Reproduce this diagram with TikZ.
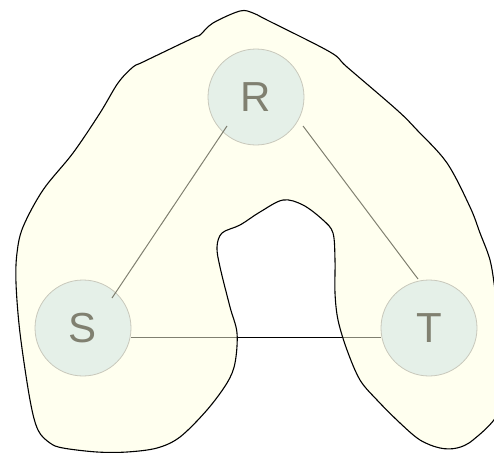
\documentclass[tikz,border=0pt]{standalone}
\usepackage{fontspec}
\setmainfont{Liberation Sans}
\definecolor{circfill}{RGB}{203,225,242}
\definecolor{circline}{RGB}{145,145,150}
\definecolor{blobfill}{RGB}{255,255,224}
\begin{document}
\begin{tikzpicture}[x=1pt,y=-1pt,
  vertex/.style={circle,minimum size=96pt,inner sep=0pt,fill=circfill,draw=circline,line width=0.8pt,
    font=\fontsize{42}{42}\selectfont},
  edge/.style={draw=black,line width=1pt},
  blob/.style={draw=black,line width=1.1pt,fill=blobfill,fill opacity=0.5,draw opacity=1}]
\useasboundingbox (0,0) rectangle (494,452);
\clip (0,0) rectangle (494,452);
\node[vertex] (R) at (256,97) {R};
\node[vertex] (S) at (83,328) {S};
\node[vertex] (T) at (429,328) {T};
\draw[edge] ([shift={(-29,29)}]R.center) -- ([shift={(29,-30)}]S.center);
\draw[edge] ([shift={(47,29)}]R.center) -- ([shift={(-11,-49)}]T.center);
\draw[edge] ([shift={(48,9)}]S.center) -- ([shift={(-48,9)}]T.center);
\path[blob] plot[smooth cycle,tension=0.55] coordinates {
 (240,11) (253,13) (267,20) (330,52) (347,67) (397,110) (417,130) (447,163)
 (470,207) (480,233) (490,260) (495,290) (500,330) (502,380) (497,415)
 (473,440) (457,448) (440,448) (420,440) (400,423) (377,400) (360,380)
 (347,350) (338,320) (335,293) (335,260) (333,233) (323,220) (303,205)
 (283,200) (260,212) (240,225) (222,233) (217,247) (220,267) (230,307)
 (237,333) (235,363) (227,383) (207,410) (180,437) (157,448) (127,452)
 (97,452) (63,448) (50,443) (38,430) (30,400) (20,333) (16,283) (17,253)
 (23,227) (43,190) (73,153) (100,113) (118,83) (133,67) (143,62) (193,38)
 (200,35) (213,23)};
\end{tikzpicture}
\end{document}
